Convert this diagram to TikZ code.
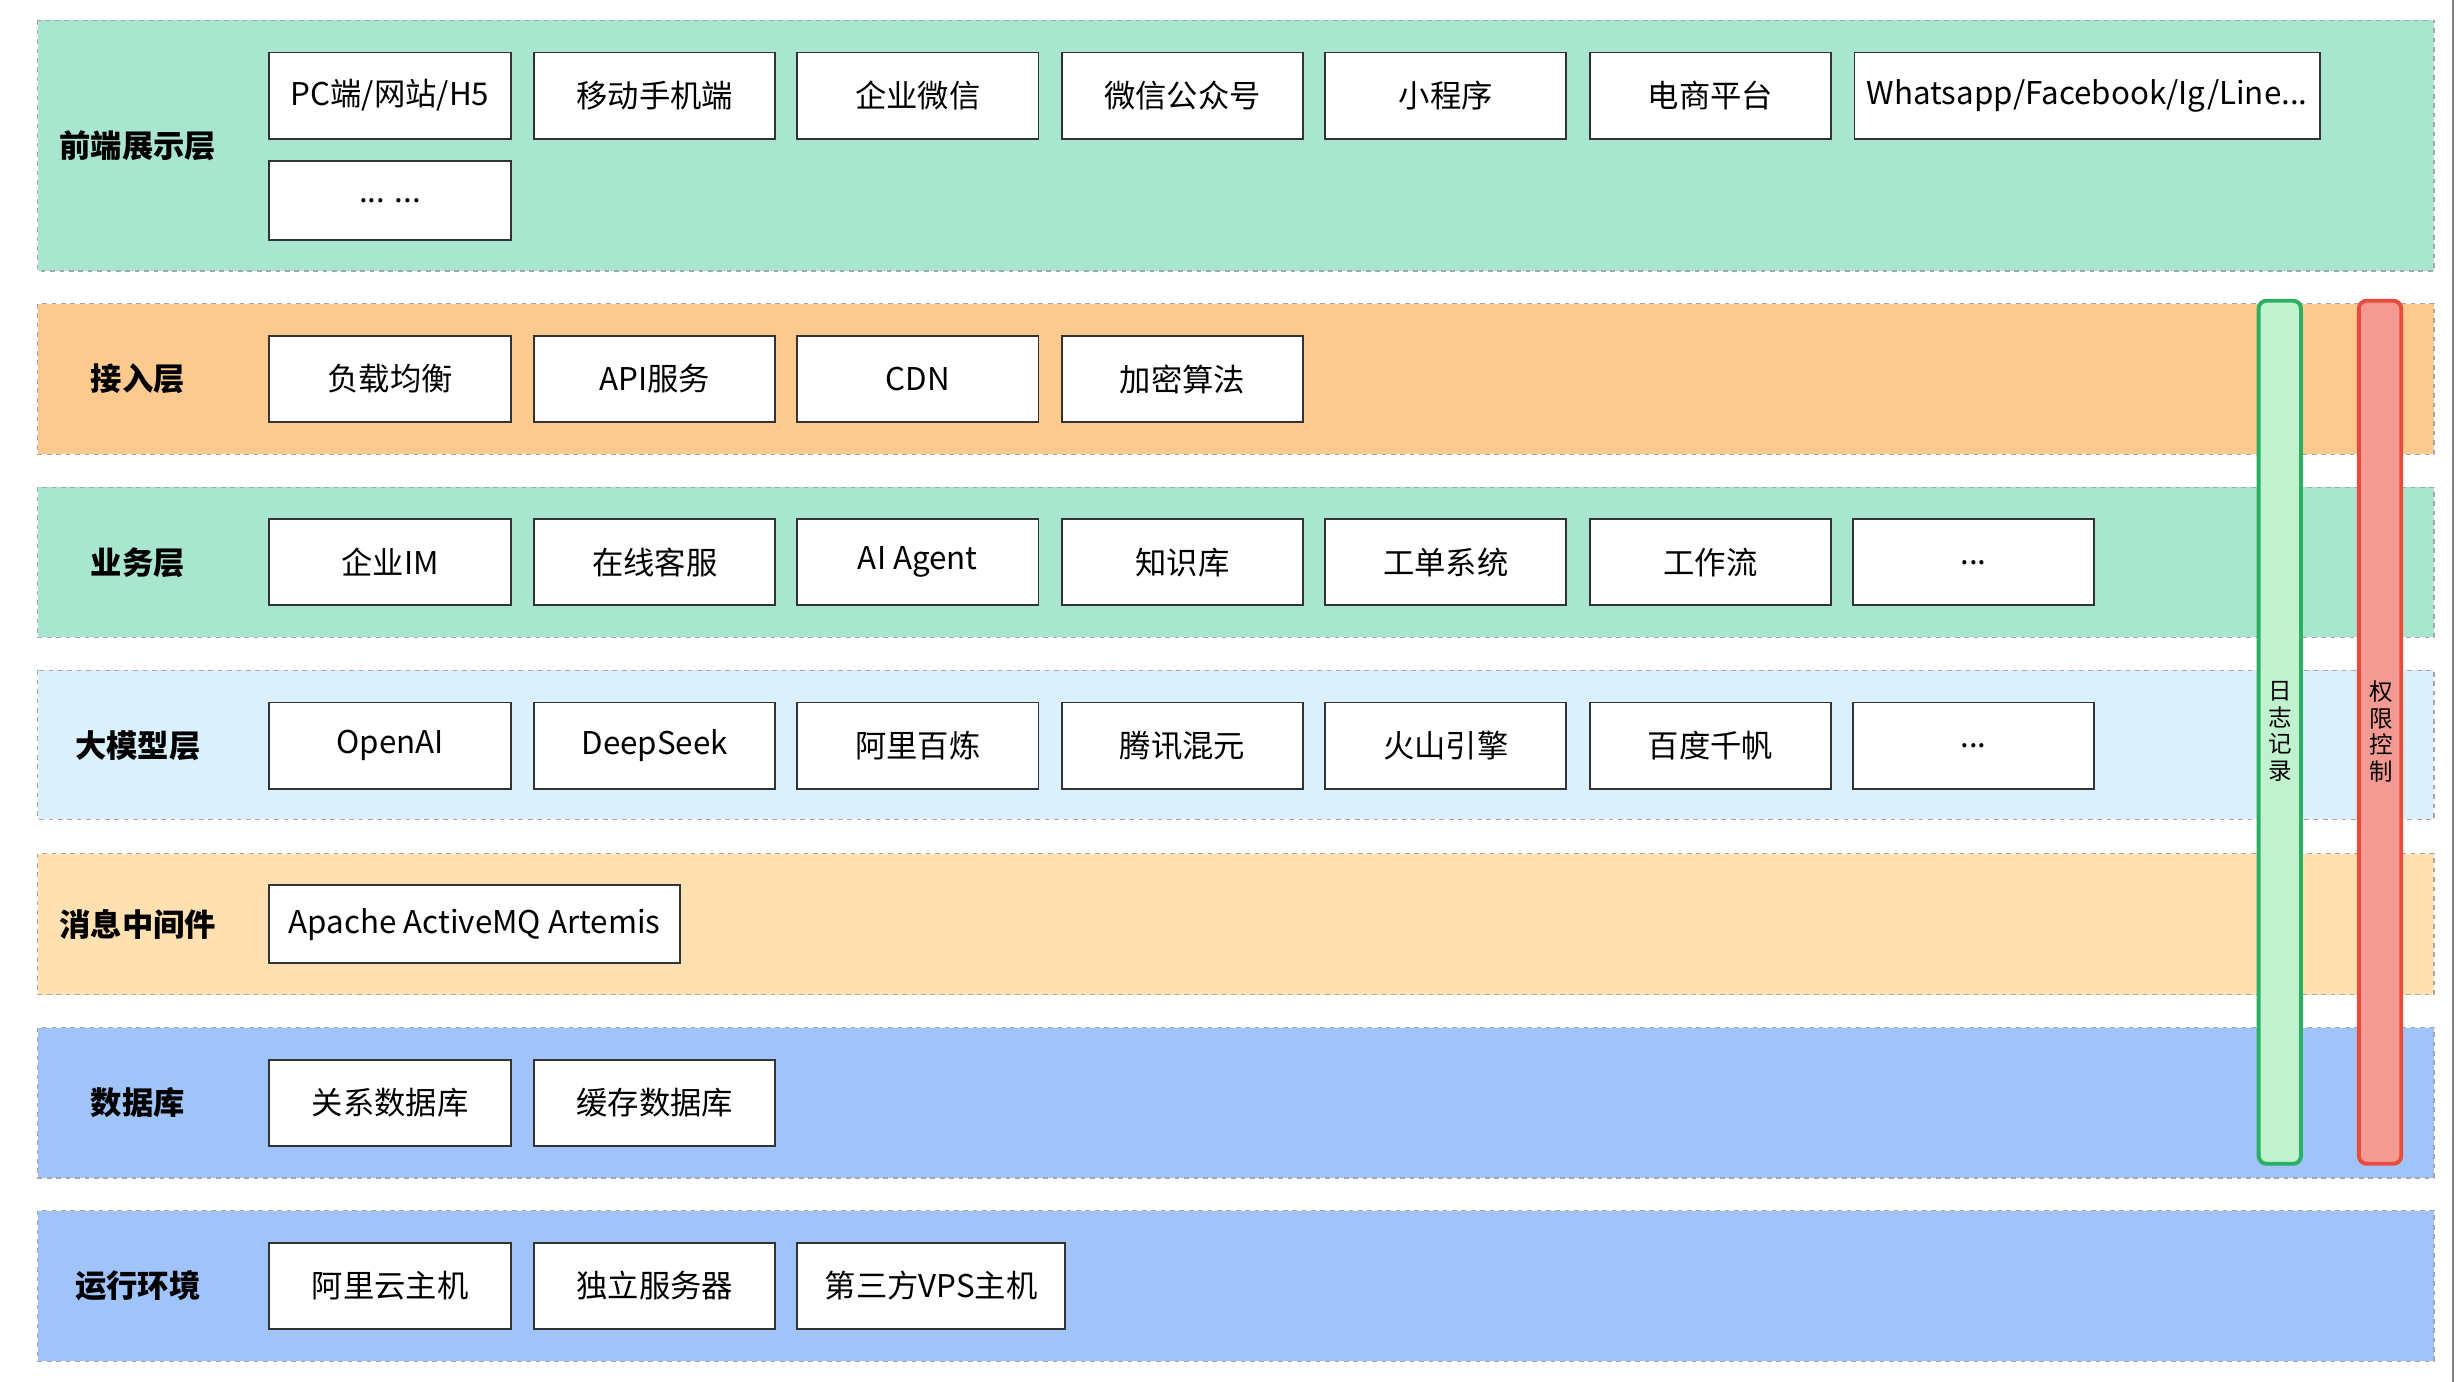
\documentclass[tikz,border=0pt]{standalone}
\usepackage{fontspec}
\setmainfont{Noto Sans CJK SC}
\begin{document}
\begin{tikzpicture}[x=1pt,y=-1pt,
  layer/.style={draw=black!35,dashed,line width=0.8pt},
  box/.style={draw=black!80,fill=white,line width=1.2pt,minimum height=55pt,minimum width=154pt,font=\fontsize{20}{23}\selectfont,inner sep=0pt},
  lbl/.style={font=\fontsize{20}{23}\selectfont\bfseries},
  vt/.style={font=\fontsize{15}{17}\selectfont,align=center,inner sep=0pt},
  bar/.style={line width=2.5pt,rounded corners=5pt}]
\useasboundingbox (0,0) rectangle (1568,882);
\draw[black!50,line width=1pt] (1566,0) -- (1566,882);
\definecolor{lgreen}{HTML}{A9E6CF}
\definecolor{lorange}{HTML}{FCCA8F}
\definecolor{lblue}{HTML}{DAF0FC}
\definecolor{lpeach}{HTML}{FFE0B0}
\definecolor{dblue}{HTML}{A0C3F9}
\fill[lgreen] (24,13) rectangle (1554,173); \draw[layer] (24,13) rectangle (1554,173);
\fill[lorange] (24,194) rectangle (1554,290); \draw[layer] (24,194) rectangle (1554,290);
\fill[lgreen] (24,311) rectangle (1554,407); \draw[layer] (24,311) rectangle (1554,407);
\fill[lblue] (24,428) rectangle (1554,523); \draw[layer] (24,428) rectangle (1554,523);
\fill[lpeach] (24,545) rectangle (1554,635); \draw[layer] (24,545) rectangle (1554,635);
\fill[dblue] (24,656) rectangle (1554,752); \draw[layer] (24,656) rectangle (1554,752);
\fill[dblue] (24,773) rectangle (1554,869); \draw[layer] (24,773) rectangle (1554,869);
\node[lbl] (l1) at (88,93) {前端展示层};
\node[lbl] (l2) at (88,242) {接入层};
\node[lbl] (l3) at (88,359) {业务层};
\node[lbl] (l4) at (88,476) {大模型层};
\node[lbl] (l5) at (88,590) {消息中间件};
\node[lbl] (l6) at (88,704) {数据库};
\node[lbl] (l7) at (88,821) {运行环境};
% row 1
\node[box] (a1) at (249,61) {PC端/网站/H5};
\node[box] (a2) at (418,61) {移动手机端};
\node[box] (a3) at (586,61) {企业微信};
\node[box] (a4) at (755,61) {微信公众号};
\node[box] (a5) at (923,61) {小程序};
\node[box] (a6) at (1092,61) {电商平台};
\node[box,minimum width=297pt] (a7) at (1332.5,61) {\raisebox{2pt}{Whatsapp/Facebook/Ig/Line...}};
\node[box,minimum height=50pt] (a8) at (249,128) {... ...};
% row 2
\node[box] (b1) at (249,242) {负载均衡};
\node[box] (b2) at (418,242) {API服务};
\node[box] (b3) at (586,242) {CDN};
\node[box] (b4) at (755,242) {加密算法};
% row 3
\node[box] (c1) at (249,359) {企业IM};
\node[box] (c2) at (418,359) {在线客服};
\node[box] (c3) at (586,359) {AI Agent};
\node[box] (c4) at (755,359) {知识库};
\node[box] (c5) at (923,359) {工单系统};
\node[box] (c6) at (1092,359) {工作流};
\node[box] (c7) at (1260,359) {...};
% row 4
\node[box] (d1) at (249,476) {OpenAI};
\node[box] (d2) at (418,476) {DeepSeek};
\node[box] (d3) at (586,476) {阿里百炼};
\node[box] (d4) at (755,476) {腾讯混元};
\node[box] (d5) at (923,476) {火山引擎};
\node[box] (d6) at (1092,476) {百度千帆};
\node[box] (d7) at (1260,476) {...};
% row 5
\node[box,minimum width=262pt,minimum height=50pt] (e1) at (303,590) {Apache ActiveMQ Artemis};
% row 6
\node[box] (f1) at (249,704) {关系数据库};
\node[box] (f2) at (418,704) {缓存数据库};
% row 7
\node[box] (g1) at (249,821) {阿里云主机};
\node[box] (g2) at (418,821) {独立服务器};
\node[box,minimum width=171pt] (g3) at (594.5,821) {第三方VPS主机};
% bars
\draw[bar,draw={rgb,255:red,43;green,176;blue,97},fill={rgb,255:red,192;green,242;blue,208}] (1442,192) rectangle (1469,743);
\draw[bar,draw={rgb,255:red,231;green,76;blue,60},fill={rgb,255:red,245;green,154;blue,146}] (1506,192) rectangle (1533,743);
\node[vt] (log) at (1456,467) {日\\志\\记\\录};
\node[vt] (perm) at (1520,467) {权\\限\\控\\制};
\end{tikzpicture}
\end{document}
